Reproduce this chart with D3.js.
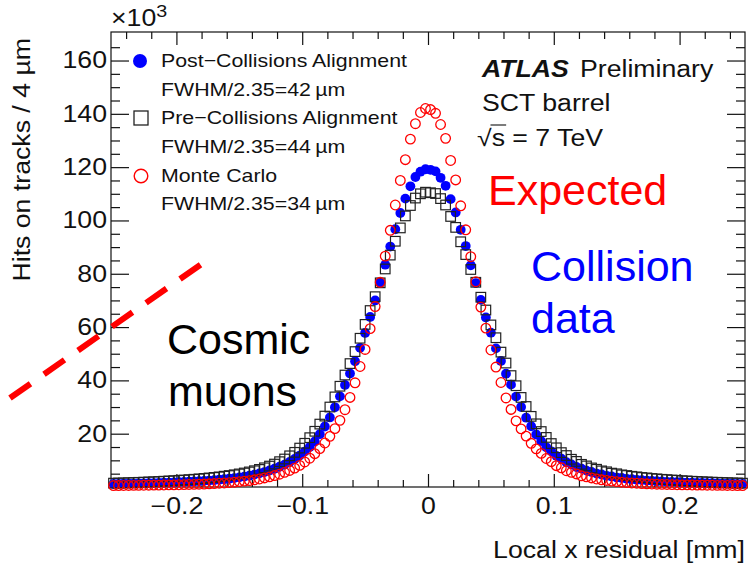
<!DOCTYPE html>
<html>
<head>
<meta charset="utf-8">
<script src="https://cdn.jsdelivr.net/npm/d3@7"></script>
<style>
  html, body { margin: 0; padding: 0; background: #fff; }
  svg { display: block; }
  text { font-family: "Liberation Sans", Arial, Helvetica, sans-serif; }
</style>
</head>
<body>
<svg id="chart" width="751" height="565"></svg>
<script>
// Residual histogram: 126 bins of 4 µm from -0.252 mm to +0.252 mm.
const binLow = -0.252;
const binWidth = 0.004;

// Hits on tracks per bin, in units of 10^3.
const postValues = [
  1.13,1.17,1.21,1.25,1.29,1.33,1.38,1.43,1.48,1.54,
  1.6,1.67,1.74,1.82,1.9,1.98,2.08,2.18,2.3,2.42,
  2.56,2.72,2.9,3.1,3.35,3.6,3.9,4.25,4.65,5.1,
  5.6,6.2,6.85,7.6,8.4,9.4,10.5,11.8,13.3,15.0,
  17.1,19.8,22.7,26.1,29.9,34.0,38.3,42.6,47.2,52.2,
  57.8,63.8,70.0,76.6,83.4,90.2,96.7,102.8,108.2,112.8,
  116.3,118.3,119.2,
  119.0,118.4,116.0,113.0,108.0,103.0,96.5,90.4,83.2,76.5,
  70.2,63.6,57.9,52.0,47.3,42.5,38.4,33.9,30.0,26.0,
  22.8,19.7,17.2,14.9,13.4,11.7,10.6,9.3,8.5,7.5,
  6.9,6.15,5.65,5.05,4.7,4.2,3.95,3.55,3.4,3.05,
  2.92,2.7,2.58,2.4,2.32,2.16,2.1,1.96,1.92,1.8,
  1.76,1.65,1.62,1.52,1.5,1.41,1.4,1.31,1.3,1.23,
  1.22,1.15,1.14
];
const preValues = [
  1.45,1.5,1.56,1.62,1.68,1.75,1.82,1.9,1.98,2.07,
  2.17,2.27,2.38,2.5,2.63,2.76,2.9,3.05,3.22,3.4,
  3.6,3.8,4.05,4.3,4.58,4.9,5.25,5.65,6.1,6.6,
  7.2,7.85,8.6,9.5,10.5,11.7,13.0,14.6,16.4,18.5,
  20.9,23.6,26.6,30.0,33.8,37.8,42.0,46.3,50.8,55.8,
  61.0,66.2,71.4,76.6,81.8,87.0,92.2,97.2,101.7,105.6,
  108.4,110.0,110.6,
  110.4,110.1,108.2,105.8,101.5,97.4,92.0,87.2,81.6,76.8,
  71.2,66.4,60.8,56.0,50.6,46.5,41.8,38.0,33.6,30.2,
  26.5,23.7,20.8,18.6,16.3,14.7,12.9,11.8,10.4,9.6,
  8.5,7.9,7.15,6.65,6.05,5.7,5.2,4.95,4.55,4.32,
  4.02,3.82,3.58,3.42,3.2,3.06,2.88,2.77,2.62,2.51,
  2.37,2.28,2.16,2.08,1.97,1.91,1.81,1.76,1.67,1.63,
  1.55,1.51,1.44
];
const mcValues = [
  0.54,0.55,0.56,0.58,0.6,0.62,0.65,0.67,0.7,0.72,
  0.75,0.78,0.8,0.85,0.9,0.95,1.0,1.05,1.1,1.2,
  1.3,1.4,1.5,1.65,1.8,2.0,2.2,2.4,2.7,3.0,
  3.4,3.8,4.3,4.8,5.5,6.2,7.1,8.1,9.4,10.8,
  12.5,14.4,16.5,19.0,21.9,25.0,29.0,33.6,39.1,45.2,
  51.6,59.4,67.7,76.8,86.6,96.3,105.8,115.0,122.8,130.5,
  136.3,140.5,142.0,
  141.6,140.2,136.0,130.8,122.5,115.2,105.5,96.5,86.4,77.0,
  67.5,59.6,51.4,45.0,39.2,33.4,29.1,24.8,21.8,19.1,
  16.4,14.3,12.6,10.7,9.5,8.0,7.2,6.1,5.5,4.9,
  4.2,3.8,3.4,3.0,2.7,2.45,2.2,2.0,1.8,1.65,
  1.5,1.4,1.3,1.2,1.12,1.05,1.0,0.95,0.9,0.85,
  0.8,0.78,0.75,0.72,0.7,0.67,0.65,0.62,0.6,0.58,
  0.56,0.55,0.54
];

const xMajorTicks = [-0.2, -0.1, 0, 0.1, 0.2];
const xMinorTicks = [-0.24,-0.22,-0.18,-0.16,-0.14,-0.12,-0.08,-0.06,-0.04,-0.02,
                     0.02,0.04,0.06,0.08,0.12,0.14,0.16,0.18,0.22,0.24];
const yMajorTicks = [20, 40, 60, 80, 100, 120, 140, 160];

const seriesNames = ["Post\u2212Collisions Alignment", "Pre\u2212Collisions Alignment", "Monte Carlo"];
const seriesWidths = ["FWHM/2.35=42\u2009\u00b5m", "FWHM/2.35=44\u2009\u00b5m", "FWHM/2.35=34\u2009\u00b5m"];

const xTitle = "Local x residual [mm]";
const yTitle = "Hits on tracks / 4 \u00b5m";

// ---------------------------------------------------------------------------
const svg = d3.select("#chart");
const frame = { left: 111, right: 745, top: 32, bottom: 487 };

const x = d3.scaleLinear().domain([-0.252, 0.252]).range([frame.left, frame.right]);
const y = d3.scaleLinear().domain([0, 170.7]).range([frame.bottom, frame.top]);

const rootStretch = 1.16;     // ROOT's Helvetica renders a little wide
const fontTick = 23;

function bins(values) {
  return values.map((v, i) => ({ x: binLow + binWidth * (i + 0.5), v }));
}

// Frame
svg.append("rect")
  .attr("x", frame.left).attr("y", frame.top)
  .attr("width", frame.right - frame.left).attr("height", frame.bottom - frame.top)
  .attr("fill", "none").attr("stroke", "#111").attr("stroke-width", 1.2);

function styleAxis(g) {
  g.select(".domain").remove();
  g.selectAll(".tick line").attr("stroke", "#111").attr("stroke-width", 1.2);
}

// Bottom axis (ticks point into the frame)
const gxMinor = svg.append("g").attr("transform", `translate(0,${frame.bottom})`)
  .call(d3.axisBottom(x).tickValues(xMinorTicks).tickSizeInner(-7).tickSizeOuter(0).tickFormat(""));
styleAxis(gxMinor);
const gx = svg.append("g").attr("transform", `translate(0,${frame.bottom})`)
  .call(d3.axisBottom(x).tickValues(xMajorTicks).tickSizeInner(-13).tickSizeOuter(0).tickPadding(11)
    .tickFormat(d3.format("")));
styleAxis(gx);
gx.selectAll(".tick text")
  .attr("font-size", fontTick).attr("fill", "#111")
  .attr("transform", `scale(${rootStretch},1)`);

// Top axis
const gtMinor = svg.append("g").attr("transform", `translate(0,${frame.top})`)
  .call(d3.axisTop(x).tickValues(xMinorTicks).tickSizeInner(-7).tickSizeOuter(0).tickFormat(""));
styleAxis(gtMinor);
const gt = svg.append("g").attr("transform", `translate(0,${frame.top})`)
  .call(d3.axisTop(x).tickValues(xMajorTicks).tickSizeInner(-13).tickSizeOuter(0).tickFormat(""));
styleAxis(gt);

// Left axis
const yMinorTicks = d3.range(5, 170, 5).filter(v => v % 20 !== 0);
const gyMinor = svg.append("g").attr("transform", `translate(${frame.left},0)`)
  .call(d3.axisLeft(y).tickValues(yMinorTicks).tickSizeInner(-9).tickSizeOuter(0).tickFormat(""));
styleAxis(gyMinor);
const gy = svg.append("g").attr("transform", `translate(${frame.left},0)`)
  .call(d3.axisLeft(y).tickValues(yMajorTicks).tickSizeInner(-18).tickSizeOuter(0).tickPadding(4 / rootStretch));
styleAxis(gy);
gy.selectAll(".tick text")
  .attr("font-size", fontTick).attr("fill", "#111")
  .attr("transform", `scale(${rootStretch},1)`);

// Right axis
const grMinor = svg.append("g").attr("transform", `translate(${frame.right},0)`)
  .call(d3.axisRight(y).tickValues(yMinorTicks).tickSizeInner(-9).tickSizeOuter(0).tickFormat(""));
styleAxis(grMinor);
const gr = svg.append("g").attr("transform", `translate(${frame.right},0)`)
  .call(d3.axisRight(y).tickValues(yMajorTicks).tickSizeInner(-18).tickSizeOuter(0).tickFormat(""));
styleAxis(gr);

// Text helper: ROOT-style text slightly stretched along the baseline
function rootText(px, py, str, opts = {}) {
  const t = svg.append("text")
    .attr("transform", `translate(${px},${py})${opts.rotate ? ` rotate(${opts.rotate})` : ""} scale(${opts.sx ?? rootStretch},1)`)
    .attr("font-size", opts.size ?? 20)
    .attr("fill", opts.fill ?? "#111")
    .attr("text-anchor", opts.anchor ?? "start")
    .text(str);
  if (opts.weight) t.attr("font-weight", opts.weight);
  if (opts.style) t.attr("font-style", opts.style);
  if (opts.baseline) t.attr("dominant-baseline", opts.baseline);
  return t;
}

// Axis exponent and titles
const expo = svg.append("text")
  .attr("transform", `translate(111,26) scale(${rootStretch},1)`)
  .attr("font-size", 23).attr("fill", "#111");
expo.append("tspan").text("\u00d710");
expo.append("tspan").attr("font-size", 17).attr("dy", -9).text("3");

rootText(745, 558, xTitle, { size: 23, anchor: "end" });
rootText(30, 38, yTitle, { size: 23, anchor: "end", rotate: -90 });

// Data markers: blue dots, then black open squares, then red open circles
const post = bins(postValues), pre = bins(preValues), mc = bins(mcValues);

svg.append("g").selectAll("circle").data(post).join("circle")
  .attr("cx", d => x(d.x)).attr("cy", d => y(d.v)).attr("r", 4.9)
  .attr("fill", "#0000ff");

const sq = 9.6;
svg.append("g").selectAll("rect").data(pre).join("rect")
  .attr("x", d => x(d.x) - sq / 2).attr("y", d => y(d.v) - sq / 2)
  .attr("width", sq).attr("height", sq)
  .attr("fill", "none").attr("stroke", "#222").attr("stroke-width", 1.2);

svg.append("g").selectAll("circle").data(mc).join("circle")
  .attr("cx", d => x(d.x)).attr("cy", d => y(d.v)).attr("r", 4.8)
  .attr("fill", "none").attr("stroke", "#ff0000").attr("stroke-width", 1.3);

// Legend
const legX = 140, legTextX = 161;
const legRows = [61, 90, 118, 147, 176, 204];
svg.append("circle").attr("cx", legX).attr("cy", legRows[0]).attr("r", 7).attr("fill", "#0000ff");
svg.append("rect").attr("x", legX + 1 - 7).attr("y", legRows[2] - 7).attr("width", 14).attr("height", 14)
  .attr("fill", "none").attr("stroke", "#222").attr("stroke-width", 1.3);
svg.append("circle").attr("cx", legX + 1).attr("cy", legRows[4]).attr("r", 6.8)
  .attr("fill", "none").attr("stroke", "#ff0000").attr("stroke-width", 1.4);
seriesNames.forEach((s, i) => {
  rootText(legTextX, legRows[2 * i], s, { size: 18.4, baseline: "central" });
  rootText(legTextX, legRows[2 * i + 1], seriesWidths[i], { size: 18.4, baseline: "central" });
});

// Experiment label
rootText(482, 77, "ATLAS", { size: 23, weight: "bold", style: "italic" });
rootText(580, 77, "Preliminary", { size: 23 });
rootText(482, 111, "SCT barrel", { size: 23 });
{
  const g = svg.append("g").attr("transform", `translate(477,146) scale(${rootStretch},1)`);
  const t = g.append("text").attr("font-size", 23).attr("fill", "#111").text("\u221as = 7 TeV");
  const node = t.node();
  const r0 = node.getSubStringLength(0, 1);
  const r1 = node.getSubStringLength(1, 1);
  g.append("line").attr("x1", r0 - 1).attr("x2", r0 + r1 + 1)
    .attr("y1", -21).attr("y2", -21).attr("stroke", "#111").attr("stroke-width", 1.1);
}

// Annotations
function note(px, py, str, color) {
  svg.append("text").attr("x", px).attr("y", py)
    .attr("font-size", 43).attr("fill", color).text(str);
}
note(488, 205, "Expected", "#ff0000");
note(531, 281, "Collision", "#0000ff");
note(531, 333, "data", "#0000ff");
note(167, 354, "Cosmic", "#000000");
note(168, 406, "muons", "#000000");

svg.append("line")
  .attr("x1", 10).attr("y1", 398).attr("x2", 203).attr("y2", 263)
  .attr("stroke", "#ff0000").attr("stroke-width", 6)
  .attr("stroke-dasharray", "25 16.5");
</script>
</body>
</html>
